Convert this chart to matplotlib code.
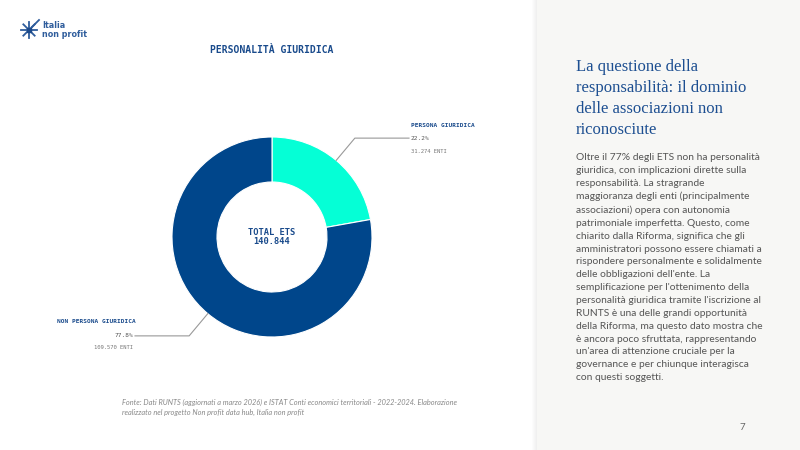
import numpy as np
import matplotlib.pyplot as plt
from matplotlib.patches import Rectangle

# data
categories = ["PERSONA GIURIDICA", "NON PERSONA GIURIDICA"]
shares = [22.2, 77.8]
counts = ["31.274", "109.570"]
total = "140.844"
colors = ["#05ffd6", "#00468b"]

title = "PERSONALITÀ GIURIDICA"
side_title = "La questione della\nresponsabilità: il dominio\ndelle associazioni non\nriconosciute"
side_body = ("Oltre il 77% degli ETS non ha personalità\n"
             "giuridica, con implicazioni dirette sulla\n"
             "responsabilità. La stragrande\n"
             "maggioranza degli enti (principalmente\n"
             "associazioni) opera con autonomia\n"
             "patrimoniale imperfetta. Questo, come\n"
             "chiarito dalla Riforma, significa che gli\n"
             "amministratori possono essere chiamati a\n"
             "rispondere personalmente e solidalmente\n"
             "delle obbligazioni dell'ente. La\n"
             "semplificazione per l'ottenimento della\n"
             "personalità giuridica tramite l'iscrizione al\n"
             "RUNTS è una delle grandi opportunità\n"
             "della Riforma, ma questo dato mostra che\n"
             "è ancora poco sfruttata, rappresentando\n"
             "un'area di attenzione cruciale per la\n"
             "governance e per chiunque interagisca\n"
             "con questi soggetti.")
source = ("Fonte: Dati RUNTS (aggiornati a marzo 2026) e ISTAT Conti economici territoriali - 2022-2024. Elaborazione\n"
          "realizzato nel progetto Non profit data hub, Italia non profit")

W, H = 800, 450
fig = plt.figure(figsize=(8, 4.5), dpi=100)
ax = fig.add_axes([0, 0, 1, 1])

def Y(y):
    # pixel row from top -> data y
    return H - y

# right panel with faint shadow
for i in range(6):
    ax.add_patch(Rectangle((537 - i, 0), 1, H, color="#000000", alpha=0.012 * (6 - i), lw=0))
ax.add_patch(Rectangle((537, 0), W - 537, H, color="#f7f7f5", lw=0))

# logo
cx, cy = 29, Y(30)
for a in np.arange(0, 180, 45):
    r = 8
    dx, dy = r * np.cos(np.radians(a)), r * np.sin(np.radians(a))
    ax.plot([cx - dx, cx + dx], [cy - dy, cy + dy], color="#2f5d9c", lw=1.3)
ax.plot([cx + 3, cx + 10], [cy + 3, cy + 10], color="#2f5d9c", lw=1.3)
ax.plot(cx, cy, "s", color="#1d4a8a", ms=3.5)
ax.text(42, Y(30), "Italia\nnon profit", color="#2f5d9c", fontsize=5.8, fontweight="bold",
        family="DejaVu Sans", va="center", ha="left", linespacing=1.1)

# donut
center = (272, Y(237))
radius = 100
wedges, _ = ax.pie(shares, colors=colors, startangle=90, counterclock=False,
                   radius=radius, center=center, frame=True,
                   wedgeprops=dict(width=45, edgecolor="white", linewidth=0.8))
ax.set_xlim(0, W)
ax.set_ylim(0, H)
ax.axis("off")
ax.set_aspect("equal")

ax.text(center[0], center[1], "TOTAL ETS\n" + total, ha="center", va="center",
        family="DejaVu Sans Mono", fontweight="bold", fontsize=6.3, color="#1a4b8c",
        linespacing=1.1)

# leader lines and labels
for w, cat, sh, cnt in zip(wedges, categories, shares, counts):
    ang = np.radians((w.theta1 + w.theta2) / 2)
    x0 = center[0] + radius * np.cos(ang)
    y0 = center[1] + radius * np.sin(ang)
    x1 = center[0] + 1.29 * radius * np.cos(ang)
    y1 = center[1] + 1.29 * radius * np.sin(ang)
    right = np.cos(ang) > 0
    x2 = 409 if right else 135
    ax.plot([x0, x1, x2], [y0, y1, y1], color="#999999", lw=0.8)
    if right:
        ax.text(x2 + 2, y1 + 13, cat, ha="left", va="center", family="DejaVu Sans Mono",
                fontweight="bold", fontsize=4.4, color="#1a4b8c")
        ax.text(x2 + 2, y1, f"{sh:.1f}%", ha="left", va="center", family="DejaVu Sans Mono",
                fontsize=4.4, color="#555555")
        ax.text(x2 + 2, y1 - 13, f"{cnt} ENTI", ha="left", va="center", family="DejaVu Sans Mono",
                fontsize=4, color="#777777")
    else:
        ax.text(57, y1 + 14, cat, ha="left", va="center", family="DejaVu Sans Mono",
                fontweight="bold", fontsize=4.4, color="#1a4b8c")
        ax.text(x2 - 2, y1, f"{sh:.1f}%", ha="right", va="center", family="DejaVu Sans Mono",
                fontsize=4.4, color="#555555")
        ax.text(x2 - 2, y1 - 12, f"{cnt} ENTI", ha="right", va="center", family="DejaVu Sans Mono",
                fontsize=4, color="#777777")

# chart title
ax.text(272, Y(50), title, ha="center", va="center", family="DejaVu Sans Mono",
        fontweight="bold", fontsize=7, color="#1a4b8c")

# source
ax.text(122, Y(407), source, ha="left", va="center", family="Lato", style="italic",
        fontsize=5.3, color="#888888", linespacing=1.5)

# side panel text
ax.text(576, Y(59), side_title, ha="left", va="top", family="Liberation Serif",
        fontsize=12, color="#1d4f91", linespacing=1.42)
ax.text(576, Y(153), side_body, ha="left", va="top", family="Lato",
        fontsize=7.4, color="#555555", linespacing=1.55)
ax.text(742, Y(427), "7", ha="center", va="center", family="Lato", fontsize=7, color="#666666")

fig.savefig("out.png", dpi=100)
